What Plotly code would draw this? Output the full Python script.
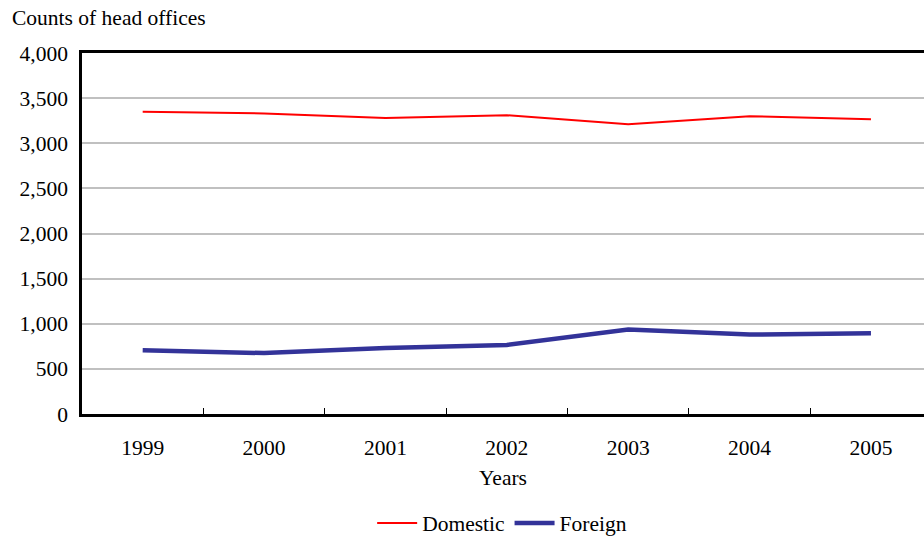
import plotly.graph_objects as go

# Head office counts by year
years = ["1999", "2000", "2001", "2002", "2003", "2004", "2005"]
domestic = [3350, 3330, 3280, 3310, 3210, 3300, 3265]
foreign = [705, 675, 730, 765, 935, 880, 895]
y_ticks = [0, 500, 1000, 1500, 2000, 2500, 3000, 3500, 4000]

x_pos = list(range(len(years)))
FONT = "Liberation Serif"
FS = 21.5

fig = go.Figure()
fig.add_trace(go.Scatter(
    x=x_pos, y=domestic, name="Domestic", mode="lines",
    line=dict(color="#ff0000", width=2),
))
fig.add_trace(go.Scatter(
    x=x_pos, y=foreign, name="Foreign", mode="lines",
    line=dict(color="#333399", width=4.5),
))

W, H = 924, 540
L, T, B = 82, 53, 126

fig.update_layout(
    width=W, height=H,
    margin=dict(l=L, r=0, t=T, b=B, autoexpand=False),
    paper_bgcolor="white", plot_bgcolor="white",
    font=dict(family=FONT, size=FS, color="black"),
    showlegend=True,
    legend=dict(
        orientation="h", x=0.499, xanchor="center",
        y=-0.302, yanchor="middle",
        font=dict(family=FONT, size=FS), itemwidth=40,
        bgcolor="rgba(0,0,0,0)",
    ),
    xaxis=dict(
        range=[-0.5, 6.437],
        tickmode="array", tickvals=x_pos, ticktext=years,
        ticks="", showgrid=False, zeroline=False,
        showline=True, linecolor="black", linewidth=2.5, mirror=True,
        ticklabelstandoff=12,
        tickfont=dict(family=FONT, size=FS),
        minor=dict(
            tickvals=[i + 0.5 for i in range(len(years) - 1)],
            ticks="inside", ticklen=6, tickwidth=1, tickcolor="black",
            showgrid=False,
        ),
        title=dict(text="Years", standoff=12, font=dict(family=FONT, size=FS)),
    ),
    yaxis=dict(
        range=[0, 4000],
        tickmode="array", tickvals=y_ticks,
        tickformat=",d",
        ticks="", ticklabelstandoff=7,
        tickfont=dict(family=FONT, size=FS),
        showgrid=True, gridcolor="#c0c0c0", gridwidth=2,
        zeroline=False,
        showline=True, linecolor="black", linewidth=2.5,
    ),
    title=dict(
        text="Counts of head offices",
        xref="container", yref="container",
        x=12 / W, xanchor="left",
        y=1 - 17.5 / H, yanchor="middle",
        font=dict(family=FONT, size=FS, color="black"),
    ),
)

fig.write_html("out.html")
